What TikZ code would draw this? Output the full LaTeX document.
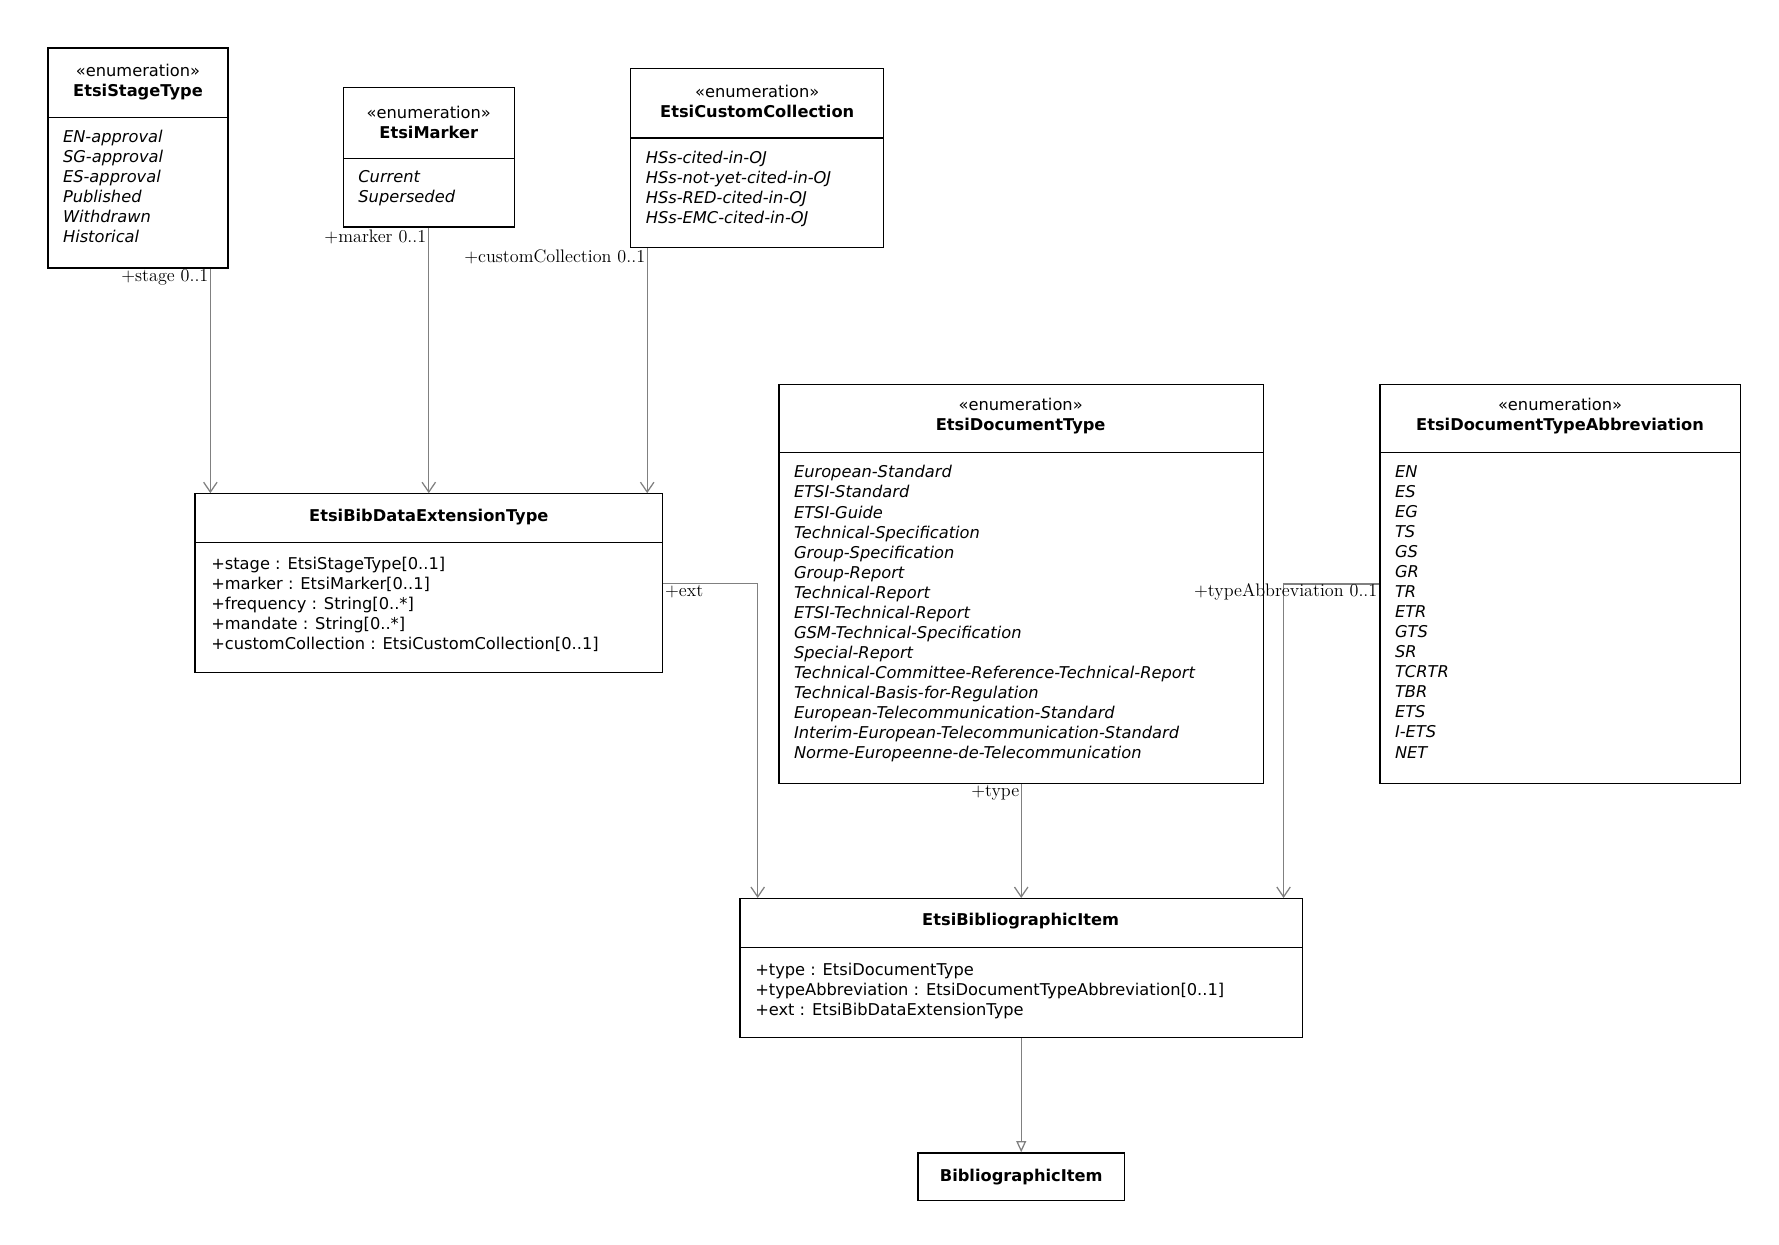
\documentclass[tikz,border=0pt]{standalone}
\usepackage{fontspec}
\newfontfamily\umlfont{DejaVu Sans}
\usetikzlibrary{fit,arrows.meta}

\tikzset{
  cls/.style={draw,line width=0.8pt,inner sep=0pt,fit=#1},
  head/.style={font=\umlfont\fontsize{10.3}{12.7}\selectfont,align=center,inner sep=0pt},
  body/.style={font=\umlfont\itshape\fontsize{10.3}{12.7}\selectfont,align=left,anchor=north west,inner sep=0pt},
  attr/.style={body,font=\umlfont\fontsize{10.3}{12.7}\selectfont},
  role/.style={font=\fontsize{11.5}{13}\selectfont,inner sep=0pt},
  assoc/.style={draw=gray,line width=0.8pt,-{Straight Barb[length=2.2mm,width=3mm]}},
  gen/.style={draw=gray,line width=0.8pt,-{Triangle[open,length=2.5mm,width=2.2mm]}}
}

\begin{document}
\begin{tikzpicture}[x=0.254mm,y=-0.254mm]
  \useasboundingbox (0,0) rectangle (1560,1091);

  % EtsiStageType
  \coordinate (st-a) at (42,42); \coordinate (st-b) at (200,235);
  \node[cls=(st-a)(st-b)] (st) {};
  \draw[line width=0.8pt] (42,103) -- (200,103);
  \node[head] (st-h) at (121,72) {«enumeration»\\\textbf{EtsiStageType}};
  \node[body] (st-l) at (55,114) {EN-approval\\SG-approval\\ES-approval\\Published\\Withdrawn\\Historical};

  % EtsiMarker
  \coordinate (mk-a) at (301,77); \coordinate (mk-b) at (451,199);
  \node[cls=(mk-a)(mk-b)] (mk) {};
  \draw[line width=0.8pt] (301,139) -- (451,139);
  \node[head] (mk-h) at (376,107) {«enumeration»\\\textbf{EtsiMarker}};
  \node[body] (mk-l) at (314,149) {Current\\Superseded};

  % EtsiCustomCollection
  \coordinate (cc-a) at (553,60); \coordinate (cc-b) at (775,217);
  \node[cls=(cc-a)(cc-b)] (cc) {};
  \draw[line width=0.8pt] (553,121) -- (775,121);
  \node[head] (cc-h) at (664,89) {«enumeration»\\\textbf{EtsiCustomCollection}};
  \node[body] (cc-l) at (566,132) {HSs-cited-in-OJ\\HSs-not-yet-cited-in-OJ\\HSs-RED-cited-in-OJ\\HSs-EMC-cited-in-OJ};

  % EtsiBibDataExtensionType
  \coordinate (bde-a) at (171,433); \coordinate (bde-b) at (581,590);
  \node[cls=(bde-a)(bde-b)] (bde) {};
  \draw[line width=0.8pt] (171,476) -- (581,476);
  \node[head] (bde-h) at (376,453) {\textbf{EtsiBibDataExtensionType}};
  \node[attr] (bde-l) at (185,488) {+stage : EtsiStageType[0..1]\\+marker : EtsiMarker[0..1]\\+frequency : String[0..*]\\+mandate : String[0..*]\\+customCollection : EtsiCustomCollection[0..1]};

  % EtsiDocumentType
  \coordinate (dt-a) at (683,337); \coordinate (dt-b) at (1108,687);
  \node[cls=(dt-a)(dt-b)] (dt) {};
  \draw[line width=0.8pt] (683,397) -- (1108,397);
  \node[head] (dt-h) at (895,365) {«enumeration»\\\textbf{EtsiDocumentType}};
  \node[body] (dt-l) at (696,408) {European-Standard\\ETSI-Standard\\ETSI-Guide\\Technical-Specification\\Group-Specification\\Group-Report\\Technical-Report\\ETSI-Technical-Report\\GSM-Technical-Specification\\Special-Report\\Technical-Committee-Reference-Technical-Report\\Technical-Basis-for-Regulation\\European-Telecommunication-Standard\\Interim-European-Telecommunication-Standard\\Norme-Europeenne-de-Telecommunication};

  % EtsiDocumentTypeAbbreviation
  \coordinate (ab-a) at (1210,337); \coordinate (ab-b) at (1526,687);
  \node[cls=(ab-a)(ab-b)] (ab) {};
  \draw[line width=0.8pt] (1210,397) -- (1526,397);
  \node[head] (ab-h) at (1368,365) {«enumeration»\\\textbf{EtsiDocumentTypeAbbreviation}};
  \node[body] (ab-l) at (1223,408) {EN\\ES\\EG\\TS\\GS\\GR\\TR\\ETR\\GTS\\SR\\TCRTR\\TBR\\ETS\\I-ETS\\NET};

  % EtsiBibliographicItem
  \coordinate (bi-a) at (649,788); \coordinate (bi-b) at (1142,910);
  \node[cls=(bi-a)(bi-b)] (bi) {};
  \draw[line width=0.8pt] (649,831) -- (1142,831);
  \node[head] (bi-h) at (895,808) {\textbf{EtsiBibliographicItem}};
  \node[attr] (bi-l) at (662,844) {+type : EtsiDocumentType\\+typeAbbreviation : EtsiDocumentTypeAbbreviation[0..1]\\+ext : EtsiBibDataExtensionType};

  % BibliographicItem
  \coordinate (bib-a) at (805,1011); \coordinate (bib-b) at (986,1053);
  \node[cls=(bib-a)(bib-b)] (bib) {};
  \node[head] (bib-h) at (895.5,1032) {\textbf{BibliographicItem}};

  % associations
  \draw[assoc] ([xshift=3.56mm]bde.north west |- st.south) -- ([xshift=3.56mm]bde.north west);
  \draw[assoc] (mk.south) -- (mk.south |- bde.north);
  \draw[assoc] ([xshift=-3.56mm]bde.north east |- cc.south) -- ([xshift=-3.56mm]bde.north east);
  \draw[assoc] (bde.east) -| ([xshift=4.06mm]bi.north west);
  \draw[assoc] (dt.south) -- (bi.north);
  \draw[assoc] (ab.west) -| ([xshift=-4.32mm]bi.north east);
  \draw[gen] (bi.south) -- (bib.north);

  % role labels
  \node[role,anchor=east] (r-st) at (183,243) {+stage 0..1};
  \node[role,anchor=east] (r-mk) at (374,208) {+marker 0..1};
  \node[role,anchor=east] (r-cc) at (566,225) {+customCollection 0..1};
  \node[role,anchor=west] (r-ext) at (583,519) {+ext};
  \node[role,anchor=east] (r-ty) at (894,695) {+type};
  \node[role,anchor=east] (r-ab) at (1208,519) {+typeAbbreviation 0..1};
\end{tikzpicture}
\end{document}
